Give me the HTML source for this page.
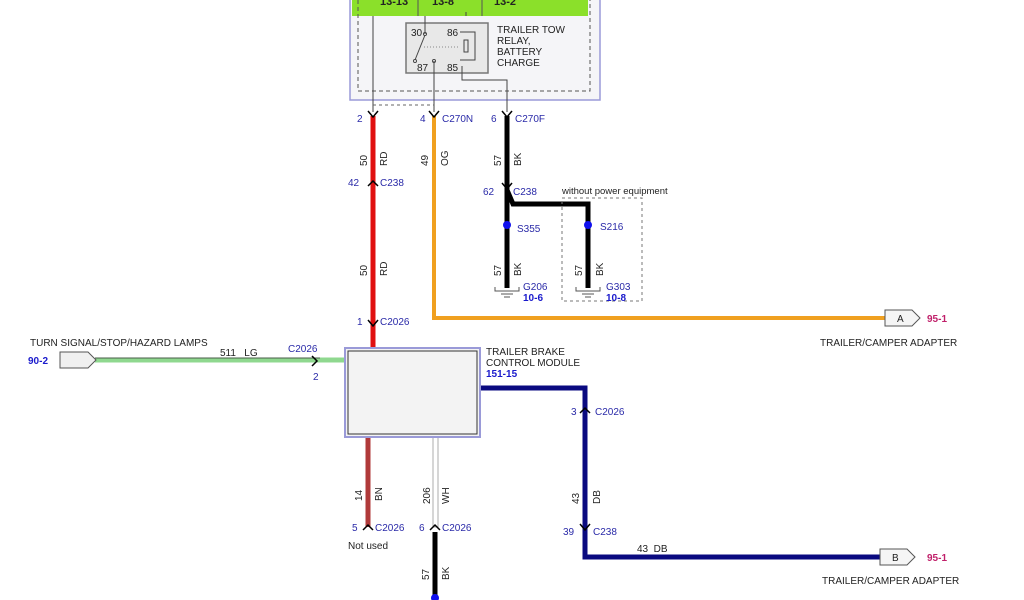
<!DOCTYPE html>
<html><head><meta charset="utf-8"><style>
html,body{margin:0;padding:0;background:#fff;}
svg{display:block;font-family:"Liberation Sans",sans-serif;}
.b{fill:#2a2aa8;font-size:10px;}
.k{fill:#222;font-size:10px;}
.bb{fill:#1a1acc;font-size:10px;font-weight:bold;}
</style></head><body>
<svg width="1024" height="600" viewBox="0 0 1024 600" xmlns="http://www.w3.org/2000/svg">
<rect x="350" y="-2" width="250" height="102" fill="#f5f5f8" stroke="#9a9ad8" stroke-width="1.5"/>
<rect x="352" y="-2" width="236" height="18" fill="#8be02a"/>
<line x1="418" y1="-2" x2="418" y2="16" stroke="#555"/>
<line x1="482" y1="-2" x2="482" y2="16" stroke="#555"/>
<text x="380" y="5" style="fill:#222;font-size:11px;font-weight:bold">13-13</text>
<text x="432" y="5" style="fill:#222;font-size:11px;font-weight:bold">13-8</text>
<text x="494" y="5" style="fill:#222;font-size:11px;font-weight:bold">13-2</text>
<rect x="358" y="-2" width="232" height="93" fill="none" stroke="#555" stroke-dasharray="4,3"/>
<rect x="406" y="23" width="82" height="50" fill="#e8e8e8" stroke="#777" stroke-width="1.5"/>
<text x="411" y="36" class="k">30</text><text x="447" y="36" class="k">86</text>
<text x="417" y="71" class="k">87</text><text x="447" y="71" class="k">85</text>
<path d="M425,35 L415,60" stroke="#444" fill="none"/>
<circle cx="425" cy="34" r="1.5" fill="#fff" stroke="#444"/><circle cx="415" cy="61" r="1.5" fill="#fff" stroke="#444"/><circle cx="434" cy="61" r="1.5" fill="#fff" stroke="#444"/>
<path d="M460,32 H475 V60 H460" fill="none" stroke="#444"/>
<rect x="464" y="40" width="4" height="12" fill="none" stroke="#444"/>
<line x1="424" y1="47" x2="460" y2="47" stroke="#888" stroke-dasharray="1,2"/>
<text x="497" y="33" class="k">TRAILER TOW</text><text x="497" y="44" class="k">RELAY,</text>
<text x="497" y="55" class="k">BATTERY</text><text x="497" y="66" class="k">CHARGE</text>
<line x1="373" y1="16" x2="373" y2="112" stroke="#444"/>
<path d="M425,34 L425,16" stroke="#444"/>
<line x1="434" y1="61" x2="434" y2="112" stroke="#444"/>
<path d="M462,66 V80 H507 V112" fill="none" stroke="#444"/>
<path d="M466,16 V12" stroke="#444"/>
<line x1="373" y1="105" x2="434" y2="105" stroke="#666" stroke-dasharray="3,3"/>
<line x1="373" y1="116" x2="373" y2="348" stroke="#e01010" stroke-width="5"/>
<path d="M434,116 V318 H885" fill="none" stroke="#f0a020" stroke-width="4"/>
<path d="M507,116 V288" stroke="#000" stroke-width="5" fill="none"/>
<path d="M507,190 L513,204 H588 V288" stroke="#000" stroke-width="5" fill="none"/>
<line x1="95" y1="360" x2="345" y2="360" stroke="#8fd88f" stroke-width="5"/>
<line x1="95" y1="358" x2="320" y2="358" stroke="#333" stroke-width="0.8"/>
<path d="M480,388 H585 V557 H880" fill="none" stroke="#0a0a80" stroke-width="5"/>
<line x1="368" y1="437" x2="368" y2="527" stroke="#b03a3a" stroke-width="5"/>
<rect x="433" y="437" width="5" height="90" fill="#fff" stroke="#999" stroke-width="0.8"/>
<line x1="435" y1="532" x2="435" y2="600" stroke="#000" stroke-width="5"/>
<circle cx="435" cy="598" r="4" fill="#1010ee"/>
<g fill="none" stroke="#000" stroke-width="1.5">
<path d="M368,111 L373,117 L378,111"/><path d="M429,111 L434,117 L439,111"/><path d="M502,111 L507,117 L512,111"/>
<path d="M368,186 L373,181 L378,186"/><path d="M502,183 L507,189 L512,183"/>
<path d="M368,320 L373,326 L378,320"/><path d="M312,356 L317,361 L312,366"/>
<path d="M580,413 L585,408 L590,413"/><path d="M580,524 L585,530 L590,524"/>
<path d="M363,530 L368,525 L373,530"/><path d="M430,530 L435,525 L440,530"/>
</g>
<rect x="345" y="348" width="135" height="89" fill="#f3f3f3" stroke="#9a9ad8" stroke-width="2"/>
<rect x="348" y="351" width="129" height="83" fill="none" stroke="#333"/>
<text x="486" y="355" class="k">TRAILER BRAKE</text><text x="486" y="366" class="k">CONTROL MODULE</text>
<text x="486" y="377" class="bb">151-15</text>
<text x="357" y="122" class="b">2</text><text x="420" y="122" class="b">4</text><text x="442" y="122" class="b">C270N</text>
<text x="491" y="122" class="b">6</text><text x="515" y="122" class="b">C270F</text>
<text x="348" y="186" class="b">42</text><text x="380" y="186" class="b">C238</text>
<text x="483" y="195" class="b">62</text><text x="513" y="195" class="b">C238</text>
<text x="562" y="194" class="k" style="font-size:9.5px">without power equipment</text>
<rect x="562" y="198" width="80" height="103" fill="none" stroke="#777" stroke-dasharray="3,3"/>
<circle cx="507" cy="225" r="4" fill="#1010ee"/><text x="517" y="232" class="b">S355</text>
<circle cx="588" cy="225" r="4" fill="#1010ee"/><text x="600" y="230" class="b">S216</text>
<path d="M495,287 V291 H519 V287 M501,294 H513 M504,297 H510" fill="none" stroke="#555"/>
<path d="M576,287 V291 H600 V287 M582,294 H594 M585,297 H591" fill="none" stroke="#555"/>
<text x="523" y="290" class="b">G206</text><text x="523" y="301" class="bb">10-6</text>
<text x="606" y="290" class="b">G303</text><text x="606" y="301" class="bb">10-8</text>
<text x="357" y="325" class="b">1</text><text x="380" y="325" class="b">C2026</text>
<text x="288" y="352" class="b">C2026</text><text x="313" y="380" class="b">2</text>
<text x="220" y="356" class="k">511&#160;&#160;&#160;LG</text>
<text x="30" y="346" class="k">TURN SIGNAL/STOP/HAZARD LAMPS</text>
<text x="28" y="364" class="bb">90-2</text>
<path d="M60,352 H88 L96,360 L88,368 H60 Z" fill="#f0f0f0" stroke="#555"/>
<path d="M885,310 H912 L920,318 L912,326 H885 Z" fill="#f5f5f5" stroke="#555"/>
<text x="897" y="322" class="k">A</text><text x="927" y="322" style="fill:#c0206a;font-size:10px;font-weight:bold">95-1</text>
<text x="820" y="346" class="k">TRAILER/CAMPER ADAPTER</text>
<path d="M880,549 H907 L915,557 L907,565 H880 Z" fill="#f5f5f5" stroke="#555"/>
<text x="892" y="561" class="k">B</text><text x="927" y="561" style="fill:#c0206a;font-size:10px;font-weight:bold">95-1</text>
<text x="822" y="584" class="k">TRAILER/CAMPER ADAPTER</text>
<text x="637" y="552" class="k">43&#160;&#160;DB</text>
<text x="571" y="415" class="b">3</text><text x="595" y="415" class="b">C2026</text>
<text x="563" y="535" class="b">39</text><text x="593" y="535" class="b">C238</text>
<text x="352" y="531" class="b">5</text><text x="375" y="531" class="b">C2026</text>
<text x="348" y="549" class="k">Not used</text>
<text x="419" y="531" class="b">6</text><text x="442" y="531" class="b">C2026</text>
<g class="k" style="font-size:10px">
<text transform="translate(367,166) rotate(-90)">50</text><text transform="translate(387,166) rotate(-90)">RD</text>
<text transform="translate(367,276) rotate(-90)">50</text><text transform="translate(387,276) rotate(-90)">RD</text>
<text transform="translate(428,166) rotate(-90)">49</text><text transform="translate(448,166) rotate(-90)">OG</text>
<text transform="translate(501,166) rotate(-90)">57</text><text transform="translate(521,166) rotate(-90)">BK</text>
<text transform="translate(501,276) rotate(-90)">57</text><text transform="translate(521,276) rotate(-90)">BK</text>
<text transform="translate(582,276) rotate(-90)">57</text><text transform="translate(603,276) rotate(-90)">BK</text>
<text transform="translate(579,504) rotate(-90)">43</text><text transform="translate(600,504) rotate(-90)">DB</text>
<text transform="translate(362,501) rotate(-90)">14</text><text transform="translate(382,501) rotate(-90)">BN</text>
<text transform="translate(430,504) rotate(-90)">206</text><text transform="translate(449,504) rotate(-90)">WH</text>
<text transform="translate(429,580) rotate(-90)">57</text><text transform="translate(449,580) rotate(-90)">BK</text>
</g>
</svg>
</body></html>
